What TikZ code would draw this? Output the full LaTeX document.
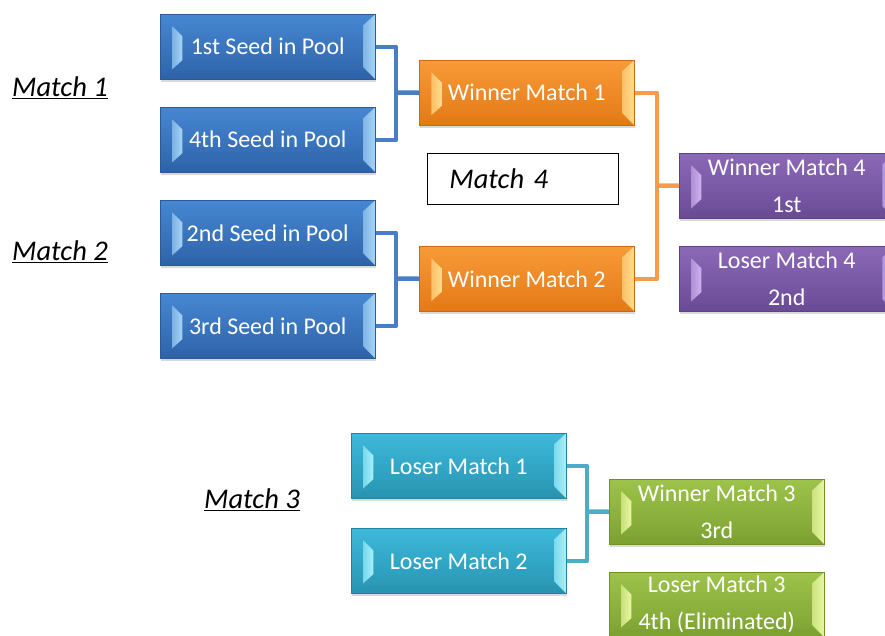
\documentclass[tikz,border=0pt]{standalone}
\usepackage{fontspec}
\setmainfont{Carlito}
\usetikzlibrary{shadows}
\definecolor{blueT}{HTML}{4687D2}\definecolor{blueB}{HTML}{2E63A8}\definecolor{blueD}{HTML}{2A5A98}\definecolor{blueL}{HTML}{A6D4F4}
\definecolor{orangeT}{HTML}{F89A38}\definecolor{orangeB}{HTML}{E37A16}\definecolor{orangeD}{HTML}{C8691A}\definecolor{orangeL}{HTML}{FFDC8C}
\definecolor{purpleT}{HTML}{8B69B7}\definecolor{purpleB}{HTML}{6A4B95}\definecolor{purpleD}{HTML}{5E4285}\definecolor{purpleL}{HTML}{CDB2EE}
\definecolor{tealT}{HTML}{3DB9DA}\definecolor{tealB}{HTML}{2894B2}\definecolor{tealD}{HTML}{23829E}\definecolor{tealL}{HTML}{A8F0FA}
\definecolor{greenT}{HTML}{9DC34B}\definecolor{greenB}{HTML}{7DA131}\definecolor{greenD}{HTML}{6E8F2A}\definecolor{greenL}{HTML}{EAF7A2}
\definecolor{bluecon}{HTML}{4A7EC4}\definecolor{orangecon}{HTML}{F79B4C}\definecolor{tealcon}{HTML}{4BADC8}
\tikzset{
  bev/.style={draw=#1D, line width=0.5pt, top color=#1T, bottom color=#1B,
    text=white, font=\fontsize{24}{37}\selectfont, align=center,
    minimum width=215pt, minimum height=65pt, inner sep=0pt, anchor=north west,
    drop shadow={shadow xshift=1pt,shadow yshift=-3pt,opacity=.3},
    path picture={
      \fill[#1B, opacity=.35] (path picture bounding box.south west)
        -- ([xshift=12pt,yshift=8pt]path picture bounding box.south west)
        -- ([xshift=-12pt,yshift=8pt]path picture bounding box.south east)
        -- (path picture bounding box.south east) -- cycle;
      \shade[left color=#1L!55!#1T, right color=#1L]
        ([xshift=12pt,yshift=-12pt]path picture bounding box.north west)
        -- ([xshift=22pt,yshift=-22pt]path picture bounding box.north west)
        -- ([xshift=22pt,yshift=19pt]path picture bounding box.south west)
        -- ([xshift=12pt,yshift=10pt]path picture bounding box.south west) -- cycle;
      \shade[left color=#1L!60!#1T, right color=#1L]
        (path picture bounding box.north east)
        -- ([xshift=-12pt,yshift=-11pt]path picture bounding box.north east)
        -- ([xshift=-12pt,yshift=12pt]path picture bounding box.south east)
        -- (path picture bounding box.south east) -- cycle;
    }},
  con/.style={draw=#1, line width=4.5pt, line join=round},
  mlabel/.style={font=\fontsize{28.5}{34}\selectfont\itshape, inner sep=0pt},
}
\begin{document}
\begin{tikzpicture}[x=1pt,y=-1pt]
\useasboundingbox (0,0) rectangle (885,635);
\clip (0,0) rectangle (885,635);
% boxes
\node[bev=blue] (s1) at (160,14) {1st Seed in Pool};
\node[bev=blue] (s4) at (160,107) {4th Seed in Pool};
\node[bev=blue] (s2) at (160,200) {2nd Seed in Pool};
\node[bev=blue] (s3) at (160,293) {3rd Seed in Pool};
\node[bev=orange] (w1) at (419,60) {Winner Match 1};
\node[bev=orange] (w2) at (419,246) {Winner Match 2};
\node[bev=purple] (w4) at (679,153) {Winner Match 4\\1st};
\node[bev=purple] (l4) at (679,246) {Loser Match 4\\2nd};
\node[bev=teal] (l1) at (351,433) {Loser Match 1};
\node[bev=teal] (l2) at (351,528) {Loser Match 2};
\node[bev=green] (w3) at (609,479) {Winner Match 3\\3rd};
\node[bev=green] (l3) at (609,572) {Loser Match 3\\4th (Eliminated)};
% match 4 box
\node[draw=black, line width=0.8pt, anchor=north west, minimum width=191pt, minimum height=51pt,
  text width=147pt, inner xsep=22pt, align=left, font=\fontsize{28.5}{34}\selectfont\itshape] (m4) at (427,153) {Match 4};
% labels
\node[mlabel] (m1) at (60,88) {\underline{Match 1}};
\node[mlabel] (m2) at (60,252) {\underline{Match 2}};
\node[mlabel] (m3) at (252,500) {\underline{Match 3}};
% connectors
\coordinate (j1) at (396,92.5);
\coordinate (j2) at (396,278.5);
\coordinate (j4) at (657,185.5);
\coordinate (j3) at (587,511.5);
\draw[con=bluecon] (s1.east) -| (j1) |- (s4.east);
\draw[con=bluecon] (j1) -- (w1.west);
\draw[con=bluecon] (s2.east) -| (j2) |- (s3.east);
\draw[con=bluecon] (j2) -- (w2.west);
\draw[con=orangecon] (w1.east) -| (j4) |- (w2.east);
\draw[con=orangecon] (j4) -- (w4.west);
\draw[con=tealcon] (l1.east) -| (j3) |- (l2.east);
\draw[con=tealcon] (j3) -- (w3.west);
\end{tikzpicture}
\end{document}
